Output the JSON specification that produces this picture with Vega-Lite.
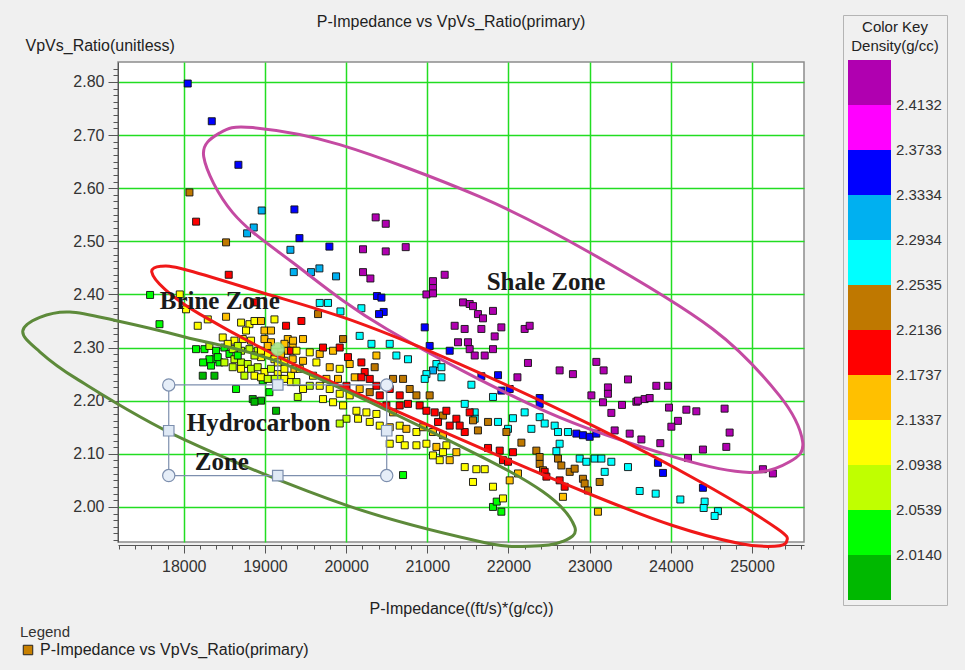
{
 "$schema": "https://vega.github.io/schema/vega-lite/v6.json",
 "width": 686, "height": 480,
 "autosize": {"type": "none"},
 "padding": {"left": 118, "top": 62, "right": 161, "bottom": 128},
 "background": "#f0f0f0",
 "config": {"view": {"fill": "white", "stroke": "#8c8c8c", "strokeWidth": 1.5}, "font": "Liberation Sans"},
 "title": {"text": "P-Impedance vs VpVs_Ratio(primary)", "fontSize": 16, "fontWeight": "normal", "color": "#1e1e1e", "anchor": "middle", "frame": "group", "offset": 8, "dx": -10, "dy": 23},
 "datasets": {
  "pts": [
   {"x":18049,"y":2.797,"d":2.35},{"x":18345,"y":2.726,"d":2.35},{"x":18673,"y":2.644,"d":2.35},{"x":18070,"y":2.592,"d":2.23},{"x":18152,"y":2.537,"d":2.19},{"x":18960,"y":2.558,"d":2.31},{"x":19363,"y":2.560,"d":2.35},{"x":18862,"y":2.526,"d":2.31},{"x":18780,"y":2.515,"d":2.31},{"x":18521,"y":2.498,"d":2.23},{"x":19425,"y":2.506,"d":2.35},{"x":19794,"y":2.490,"d":2.35},{"x":19314,"y":2.484,"d":2.31},{"x":18554,"y":2.437,"d":2.19},{"x":19355,"y":2.442,"d":2.31},{"x":19568,"y":2.442,"d":2.31},{"x":19671,"y":2.449,"d":2.31},{"x":19876,"y":2.434,"d":2.31},
   {"x":20364,"y":2.545,"d":2.43},{"x":20488,"y":2.533,"d":2.43},{"x":20208,"y":2.485,"d":2.43},{"x":20488,"y":2.481,"d":2.43},{"x":20734,"y":2.489,"d":2.43},{"x":20208,"y":2.442,"d":2.43},{"x":20299,"y":2.430,"d":2.43},{"x":21070,"y":2.425,"d":2.43},{"x":21214,"y":2.437,"d":2.43},{"x":21070,"y":2.412,"d":2.43},
   {"x":20989,"y":2.400,"d":2.43},{"x":21070,"y":2.402,"d":2.43},{"x":20380,"y":2.397,"d":2.35},{"x":20435,"y":2.394,"d":2.35},{"x":20463,"y":2.367,"d":2.35},{"x":20405,"y":2.363,"d":2.35},
   {"x":20188,"y":2.374,"d":2.27},{"x":19675,"y":2.384,"d":2.27},{"x":19777,"y":2.384,"d":2.27},{"x":19930,"y":2.368,"d":2.27},{"x":19654,"y":2.363,"d":2.23},{"x":19449,"y":2.350,"d":2.19},
   {"x":21440,"y":2.385,"d":2.43},{"x":21522,"y":2.382,"d":2.43},{"x":21337,"y":2.341,"d":2.43},{"x":21460,"y":2.335,"d":2.43},
   {"x":20968,"y":2.338,"d":2.35},{"x":21029,"y":2.303,"d":2.35},{"x":21276,"y":2.294,"d":2.35},{"x":21378,"y":2.310,"d":2.43},
   {"x":20167,"y":2.322,"d":2.27},{"x":20312,"y":2.307,"d":2.27},{"x":20537,"y":2.307,"d":2.27},{"x":20619,"y":2.285,"d":2.27},{"x":20762,"y":2.278,"d":2.27},
   {"x":21112,"y":2.269,"d":2.27},{"x":21174,"y":2.263,"d":2.27},{"x":21070,"y":2.257,"d":2.31},{"x":20989,"y":2.250,"d":2.27},{"x":21174,"y":2.244,"d":2.27},{"x":20968,"y":2.241,"d":2.27},
   {"x":21461,"y":2.194,"d":2.27},{"x":21461,"y":2.141,"d":2.19},{"x":21461,"y":2.075,"d":2.11},{"x":20701,"y":2.060,"d":2.03},
   {"x":21563,"y":2.378,"d":2.43},{"x":21624,"y":2.363,"d":2.43},{"x":21686,"y":2.355,"d":2.43},{"x":21809,"y":2.369,"d":2.43},{"x":21666,"y":2.335,"d":2.43},{"x":21912,"y":2.338,"d":2.43},{"x":22199,"y":2.335,"d":2.43},{"x":22261,"y":2.341,"d":2.43},{"x":21830,"y":2.321,"d":2.43},{"x":21501,"y":2.310,"d":2.43},{"x":21522,"y":2.297,"d":2.43},{"x":21584,"y":2.285,"d":2.43},{"x":21707,"y":2.285,"d":2.43},{"x":21809,"y":2.297,"d":2.43},{"x":22240,"y":2.271,"d":2.43},{"x":22630,"y":2.257,"d":2.43},{"x":22794,"y":2.250,"d":2.43},{"x":23082,"y":2.273,"d":2.43},{"x":23172,"y":2.257,"d":2.43},{"x":23472,"y":2.240,"d":2.43},{"x":22110,"y":2.244,"d":2.43},{"x":23225,"y":2.225,"d":2.43},{"x":23225,"y":2.213,"d":2.43},{"x":23164,"y":2.197,"d":2.43},{"x":23398,"y":2.192,"d":2.43},{"x":23267,"y":2.177,"d":2.43},{"x":23021,"y":2.210,"d":2.43},{"x":23575,"y":2.198,"d":2.43},{"x":23308,"y":2.144,"d":2.43},{"x":23493,"y":2.138,"d":2.43},
   {"x":21666,"y":2.246,"d":2.35},{"x":21871,"y":2.248,"d":2.35},{"x":22015,"y":2.222,"d":2.35},{"x":21912,"y":2.219,"d":2.35},{"x":21543,"y":2.230,"d":2.27},{"x":21809,"y":2.207,"d":2.27},{"x":22384,"y":2.205,"d":2.35},{"x":22384,"y":2.194,"d":2.35},
   {"x":22199,"y":2.178,"d":2.27},{"x":22384,"y":2.169,"d":2.27},{"x":22446,"y":2.157,"d":2.27},{"x":22569,"y":2.153,"d":2.27},{"x":22610,"y":2.141,"d":2.27},{"x":22733,"y":2.141,"d":2.27},
   {"x":22836,"y":2.138,"d":2.35},{"x":22917,"y":2.135,"d":2.35},{"x":23000,"y":2.132,"d":2.35},{"x":23082,"y":2.138,"d":2.35},
   {"x":21584,"y":2.178,"d":2.27},{"x":21584,"y":2.166,"d":2.27},{"x":21871,"y":2.160,"d":2.27},{"x":22055,"y":2.167,"d":2.27},{"x":21994,"y":2.147,"d":2.27},{"x":22282,"y":2.147,"d":2.27},
   {"x":21563,"y":2.163,"d":2.23},{"x":21748,"y":2.160,"d":2.23},{"x":21624,"y":2.144,"d":2.23},{"x":21974,"y":2.141,"d":2.23},{"x":22159,"y":2.121,"d":2.23},
   {"x":22630,"y":2.119,"d":2.27},{"x":22590,"y":2.105,"d":2.27},
   {"x":21748,"y":2.111,"d":2.19},{"x":21892,"y":2.106,"d":2.19},{"x":22055,"y":2.103,"d":2.19},{"x":21932,"y":2.088,"d":2.19},{"x":21994,"y":2.085,"d":2.19},
   {"x":22343,"y":2.106,"d":2.23},{"x":22384,"y":2.094,"d":2.23},{"x":22384,"y":2.081,"d":2.23},{"x":22425,"y":2.069,"d":2.23},
   {"x":22446,"y":2.066,"d":2.19},{"x":22467,"y":2.057,"d":2.19},{"x":22630,"y":2.050,"d":2.19},{"x":22692,"y":2.038,"d":2.19},
   {"x":22610,"y":2.091,"d":2.23},{"x":22651,"y":2.078,"d":2.23},{"x":22754,"y":2.066,"d":2.23},{"x":22815,"y":2.072,"d":2.23},{"x":22917,"y":2.053,"d":2.23},{"x":22938,"y":2.044,"d":2.23},{"x":23123,"y":2.047,"d":2.23},
   {"x":22877,"y":2.091,"d":2.27},{"x":22959,"y":2.085,"d":2.27},{"x":23061,"y":2.091,"d":2.27},{"x":23144,"y":2.091,"d":2.27},{"x":23267,"y":2.085,"d":2.27},{"x":23472,"y":2.075,"d":2.27},{"x":23185,"y":2.066,"d":2.27},
   {"x":22979,"y":2.031,"d":2.23},
   {"x":21604,"y":2.071,"d":2.11},{"x":21707,"y":2.071,"d":2.11},{"x":21563,"y":2.047,"d":2.11},{"x":21809,"y":2.038,"d":2.11},
   {"x":22015,"y":2.050,"d":2.15},{"x":22117,"y":2.063,"d":2.15},{"x":22671,"y":2.019,"d":2.15},
   {"x":21809,"y":2.000,"d":2.03},{"x":21912,"y":1.991,"d":2.03},{"x":21855,"y":2.010,"d":2.03},
   {"x":23102,"y":1.991,"d":2.15},{"x":21932,"y":2.016,"d":2.11},
   {"x":23821,"y":2.228,"d":2.43},{"x":23964,"y":2.228,"d":2.43},{"x":23595,"y":2.200,"d":2.43},{"x":23677,"y":2.203,"d":2.43},{"x":23739,"y":2.205,"d":2.43},{"x":23977,"y":2.187,"d":2.43},{"x":24191,"y":2.183,"d":2.43},{"x":24314,"y":2.180,"d":2.43},{"x":24662,"y":2.185,"d":2.43},{"x":24087,"y":2.162,"d":2.43},{"x":24006,"y":2.151,"d":2.43},{"x":24724,"y":2.140,"d":2.43},{"x":23637,"y":2.127,"d":2.43},{"x":23870,"y":2.120,"d":2.43},{"x":24395,"y":2.108,"d":2.43},{"x":24683,"y":2.113,"d":2.43},{"x":24211,"y":2.092,"d":2.43},{"x":25134,"y":2.071,"d":2.43},{"x":25257,"y":2.063,"d":2.43},
   {"x":23841,"y":2.083,"d":2.35},{"x":23903,"y":2.064,"d":2.35},{"x":24395,"y":2.036,"d":2.35},
   {"x":23616,"y":2.030,"d":2.27},{"x":23813,"y":2.025,"d":2.27},{"x":24117,"y":2.014,"d":2.27},{"x":24416,"y":2.010,"d":2.27},{"x":24404,"y":1.998,"d":2.27},{"x":24580,"y":1.992,"d":2.27},{"x":24539,"y":1.983,"d":2.27},
   {"x":17585,"y":2.399,"d":2.03},{"x":17951,"y":2.400,"d":2.11},{"x":18028,"y":2.372,"d":2.11},{"x":17701,"y":2.344,"d":2.03},{"x":18172,"y":2.341,"d":2.11},{"x":18521,"y":2.358,"d":2.15},{"x":18296,"y":2.353,"d":2.11},{"x":18706,"y":2.347,"d":2.11},{"x":18809,"y":2.344,"d":2.11},{"x":18871,"y":2.350,"d":2.11},{"x":18952,"y":2.350,"d":2.15},{"x":18994,"y":2.332,"d":2.15},{"x":19075,"y":2.332,"d":2.15},{"x":19117,"y":2.353,"d":2.11},{"x":19260,"y":2.341,"d":2.19},{"x":18767,"y":2.332,"d":2.11},{"x":18480,"y":2.319,"d":2.11},{"x":18883,"y":2.385,"d":2.19},{"x":18624,"y":2.313,"d":2.11},{"x":18727,"y":2.316,"d":2.11},{"x":18829,"y":2.313,"d":2.11},{"x":18994,"y":2.316,"d":2.15},{"x":19075,"y":2.310,"d":2.15},{"x":19281,"y":2.316,"d":2.15},{"x":19342,"y":2.303,"d":2.15},
   {"x":18151,"y":2.297,"d":2.03},{"x":18255,"y":2.297,"d":2.03},{"x":18316,"y":2.303,"d":2.07},{"x":18398,"y":2.294,"d":2.03},{"x":18378,"y":2.278,"d":2.03},{"x":18501,"y":2.300,"d":2.03},{"x":18563,"y":2.288,"d":2.03},{"x":18603,"y":2.297,"d":2.07},{"x":18706,"y":2.294,"d":2.07},{"x":18809,"y":2.297,"d":2.07},{"x":18911,"y":2.294,"d":2.07},{"x":18952,"y":2.282,"d":2.11},{"x":19034,"y":2.288,"d":2.11},{"x":19117,"y":2.278,"d":2.11},{"x":19198,"y":2.285,"d":2.15},{"x":19281,"y":2.294,"d":2.15},{"x":19342,"y":2.278,"d":2.15},{"x":18624,"y":2.278,"d":2.07},{"x":18706,"y":2.272,"d":2.07},{"x":18788,"y":2.269,"d":2.07},{"x":18336,"y":2.266,"d":2.03},{"x":18440,"y":2.272,"d":2.03},{"x":18829,"y":2.260,"d":2.07},{"x":18911,"y":2.263,"d":2.07},{"x":18994,"y":2.254,"d":2.11},{"x":19075,"y":2.260,"d":2.07},{"x":19158,"y":2.250,"d":2.11},{"x":19240,"y":2.260,"d":2.11},{"x":19321,"y":2.247,"d":2.11},{"x":18234,"y":2.247,"d":2.0},{"x":18378,"y":2.247,"d":2.0},{"x":19117,"y":2.241,"d":2.07},{"x":19198,"y":2.241,"d":2.07},{"x":18973,"y":2.238,"d":2.03},{"x":18644,"y":2.222,"d":2.03},{"x":18850,"y":2.203,"d":2.0},{"x":18952,"y":2.200,"d":2.0},{"x":18871,"y":2.198,"d":2.0},{"x":19137,"y":2.181,"d":2.0},{"x":19055,"y":2.216,"d":2.03},{"x":19404,"y":2.207,"d":2.07},{"x":18542,"y":2.307,"d":2.11},{"x":18665,"y":2.303,"d":2.07},{"x":18419,"y":2.282,"d":2.03},{"x":18501,"y":2.272,"d":2.07},{"x":18603,"y":2.263,"d":2.07},{"x":18706,"y":2.260,"d":2.11},{"x":18747,"y":2.247,"d":2.07},{"x":18871,"y":2.247,"d":2.11},{"x":18952,"y":2.244,"d":2.11},{"x":19034,"y":2.241,"d":2.07},{"x":19240,"y":2.241,"d":2.11},{"x":19321,"y":2.235,"d":2.11},{"x":18665,"y":2.285,"d":2.03},{"x":18316,"y":2.278,"d":2.03},{"x":18871,"y":2.285,"d":2.07},{"x":18952,"y":2.294,"d":2.11},{"x":19034,"y":2.303,"d":2.15},{"x":19240,"y":2.307,"d":2.15},{"x":19321,"y":2.294,"d":2.19},{"x":19158,"y":2.272,"d":2.11},{"x":19240,"y":2.275,"d":2.11},{"x":19363,"y":2.260,"d":2.15},{"x":18238,"y":2.272,"d":2.03},
   {"x":19346,"y":2.313,"d":2.15},{"x":19469,"y":2.316,"d":2.15},{"x":19388,"y":2.294,"d":2.11},{"x":19552,"y":2.291,"d":2.11},{"x":19675,"y":2.288,"d":2.15},{"x":19715,"y":2.300,"d":2.19},{"x":19839,"y":2.294,"d":2.15},{"x":19921,"y":2.300,"d":2.19},{"x":19962,"y":2.316,"d":2.23},{"x":20023,"y":2.282,"d":2.19},{"x":20044,"y":2.269,"d":2.15},{"x":20188,"y":2.272,"d":2.19},{"x":20352,"y":2.263,"d":2.23},{"x":20373,"y":2.285,"d":2.15},{"x":20229,"y":2.254,"d":2.19},{"x":20106,"y":2.244,"d":2.15},{"x":19921,"y":2.260,"d":2.11},{"x":19798,"y":2.263,"d":2.15},{"x":19634,"y":2.272,"d":2.11},{"x":19469,"y":2.275,"d":2.15},{"x":19429,"y":2.260,"d":2.11},{"x":19592,"y":2.247,"d":2.11},{"x":19757,"y":2.241,"d":2.15},{"x":19900,"y":2.241,"d":2.15},{"x":20004,"y":2.228,"d":2.19},{"x":20188,"y":2.244,"d":2.19},{"x":20291,"y":2.241,"d":2.19},{"x":20373,"y":2.228,"d":2.19},{"x":20578,"y":2.241,"d":2.23},{"x":20701,"y":2.241,"d":2.23},{"x":20537,"y":2.222,"d":2.19},{"x":20660,"y":2.210,"d":2.19},{"x":20783,"y":2.222,"d":2.23},{"x":20866,"y":2.210,"d":2.23},{"x":21029,"y":2.210,"d":2.23},{"x":20762,"y":2.194,"d":2.19},{"x":20906,"y":2.191,"d":2.19},{"x":20989,"y":2.181,"d":2.19},{"x":21091,"y":2.178,"d":2.19},{"x":21193,"y":2.172,"d":2.23},{"x":21235,"y":2.181,"d":2.19},{"x":21358,"y":2.166,"d":2.19},{"x":21132,"y":2.160,"d":2.19},{"x":21276,"y":2.153,"d":2.19},{"x":21399,"y":2.153,"d":2.19},{"x":20660,"y":2.191,"d":2.19},{"x":20578,"y":2.178,"d":2.15},{"x":20496,"y":2.191,"d":2.19},{"x":20414,"y":2.210,"d":2.19},{"x":20291,"y":2.216,"d":2.23},{"x":20167,"y":2.222,"d":2.15},{"x":20044,"y":2.210,"d":2.11},{"x":19921,"y":2.213,"d":2.11},{"x":19798,"y":2.222,"d":2.11},{"x":19675,"y":2.228,"d":2.11},{"x":19552,"y":2.228,"d":2.07},{"x":19469,"y":2.222,"d":2.11},{"x":19388,"y":2.235,"d":2.07},{"x":19715,"y":2.203,"d":2.11},{"x":19839,"y":2.197,"d":2.11},{"x":19962,"y":2.191,"d":2.11},{"x":20127,"y":2.181,"d":2.11},{"x":20250,"y":2.178,"d":2.11},{"x":20373,"y":2.175,"d":2.11},{"x":20291,"y":2.160,"d":2.11},{"x":20147,"y":2.166,"d":2.11},{"x":20004,"y":2.166,"d":2.07},{"x":19921,"y":2.157,"d":2.07},{"x":20414,"y":2.153,"d":2.11},{"x":20537,"y":2.150,"d":2.15},{"x":20660,"y":2.153,"d":2.11},{"x":20742,"y":2.147,"d":2.15},{"x":20866,"y":2.141,"d":2.11},{"x":20947,"y":2.150,"d":2.15},{"x":21070,"y":2.141,"d":2.15},{"x":21193,"y":2.135,"d":2.15},{"x":20660,"y":2.128,"d":2.11},{"x":20537,"y":2.119,"d":2.11},{"x":20722,"y":2.116,"d":2.11},{"x":20866,"y":2.116,"d":2.11},{"x":20989,"y":2.119,"d":2.11},{"x":21112,"y":2.113,"d":2.15},{"x":21235,"y":2.116,"d":2.11},{"x":21070,"y":2.097,"d":2.11},{"x":21193,"y":2.103,"d":2.11},{"x":21153,"y":2.088,"d":2.11},{"x":21276,"y":2.088,"d":2.15},{"x":21358,"y":2.103,"d":2.15},{"x":21522,"y":2.178,"d":2.19}
  ],
  "ell": [
   {"e":1,"i":1,"x":18246,"y":2.659},{"e":1,"i":2,"x":18443,"y":2.704},{"e":1,"i":3,"x":18850,"y":2.714},{"e":1,"i":4,"x":19921,"y":2.682},{"e":1,"i":5,"x":21645,"y":2.584},{"e":1,"i":6,"x":23000,"y":2.479},{"e":1,"i":7,"x":24515,"y":2.335},{"e":1,"i":8,"x":25340,"y":2.209},{"e":1,"i":9,"x":25623,"y":2.123},{"e":1,"i":10,"x":25463,"y":2.085},{"e":1,"i":11,"x":24970,"y":2.065},{"e":1,"i":12,"x":24108,"y":2.091},{"e":1,"i":13,"x":22470,"y":2.179},{"e":1,"i":14,"x":20500,"y":2.335},{"e":1,"i":15,"x":19342,"y":2.460},{"e":1,"i":16,"x":18603,"y":2.554},
   {"e":2,"i":1,"x":17606,"y":2.442},{"e":2,"i":2,"x":17717,"y":2.453},{"e":2,"i":3,"x":18012,"y":2.447},{"e":2,"i":4,"x":18911,"y":2.406},{"e":2,"i":5,"x":20130,"y":2.348},{"e":2,"i":6,"x":21399,"y":2.269},{"e":2,"i":7,"x":23037,"y":2.153},{"e":2,"i":8,"x":24355,"y":2.048},{"e":2,"i":9,"x":25303,"y":1.960},{"e":2,"i":10,"x":25426,"y":1.935},{"e":2,"i":11,"x":25278,"y":1.926},{"e":2,"i":12,"x":24847,"y":1.931},{"e":2,"i":13,"x":24022,"y":1.965},{"e":2,"i":14,"x":23037,"y":2.022},{"e":2,"i":15,"x":21399,"y":2.128},{"e":2,"i":16,"x":19404,"y":2.265},{"e":2,"i":17,"x":18197,"y":2.363},{"e":2,"i":18,"x":17766,"y":2.410},
   {"e":3,"i":1,"x":16017,"y":2.331},{"e":3,"i":2,"x":16227,"y":2.357},{"e":3,"i":3,"x":16596,"y":2.367},{"e":3,"i":4,"x":17187,"y":2.350},{"e":3,"i":5,"x":18012,"y":2.320},{"e":3,"i":6,"x":19305,"y":2.265},{"e":3,"i":7,"x":21399,"y":2.115},{"e":3,"i":8,"x":22421,"y":2.029},{"e":3,"i":9,"x":22815,"y":1.963},{"e":3,"i":10,"x":22667,"y":1.935},{"e":3,"i":11,"x":22261,"y":1.926},{"e":3,"i":12,"x":21645,"y":1.935},{"e":3,"i":13,"x":20007,"y":2.003},{"e":3,"i":14,"x":17988,"y":2.128},{"e":3,"i":15,"x":16682,"y":2.241},{"e":3,"i":16,"x":16190,"y":2.297}
  ],
  "labels": [
   {"x":17704,"y":2.387,"t":"Brine Zone"},
   {"x":21731,"y":2.423,"t":"Shale Zone"},
   {"x":18037,"y":2.158,"t":"Hydrocarbon"},
   {"x":18135,"y":2.085,"t":"Zone"}
  ],
  "box": [{"x":17815,"x2":20500,"y":2.059,"y2":2.2297}],
  "rot": [{"x":19158,"y":2.2297,"y2":2.297}],
  "hc": [{"x":17815,"y":2.2297},{"x":20500,"y":2.2297},{"x":17815,"y":2.059},{"x":20500,"y":2.059}],
  "hs": [{"x":19158,"y":2.2297},{"x":17815,"y":2.1434},{"x":20500,"y":2.1434},{"x":19158,"y":2.059}],
  "hg": [{"x":19158,"y":2.297}]
 },
 "encoding": {
  "x": {"field": "x", "type": "quantitative",
   "scale": {"domain": [17190, 25640], "nice": false, "zero": false},
   "axis": {"title": "P-Impedance((ft/s)*(g/cc))",
    "values": [17200,17400,17600,17800,18000,18200,18400,18600,18800,19000,19200,19400,19600,19800,20000,20200,20400,20600,20800,21000,21200,21400,21600,21800,22000,22200,22400,22600,22800,23000,23200,23400,23600,23800,24000,24200,24400,24600,24800,25000,25200,25400,25600],
    "labelExpr": "datum.value % 1000 === 0 ? format(datum.value, 'd') : ''",
    "grid": true, "gridColor": "#22dd22", "gridWidth": 1.5,
    "gridOpacity": {"condition": {"test": "datum.value % 1000 === 0", "value": 1}, "value": 0},
    "tickSize": {"condition": {"test": "datum.value % 1000 === 0", "value": 8}, "value": 4},
    "tickColor": "#555", "domainColor": "#555", "offset": 3,
    "labelFontSize": 16, "labelColor": "#333", "labelPadding": 5, "labelOverlap": false, "labelBound": false, "labelFlush": false,
    "titleFontSize": 16, "titleFontWeight": "normal", "titleColor": "#222", "titleY": 63, "titleBaseline": "middle"}},
  "y": {"field": "y", "type": "quantitative",
   "scale": {"domain": [1.934, 2.8375], "nice": false, "zero": false},
   "axis": {"title": "VpVs_Ratio(unitless)",
    "values": [1.9375,1.95,1.9625,1.975,1.9875,2,2.0125,2.025,2.0375,2.05,2.0625,2.075,2.0875,2.1,2.1125,2.125,2.1375,2.15,2.1625,2.175,2.1875,2.2,2.2125,2.225,2.2375,2.25,2.2625,2.275,2.2875,2.3,2.3125,2.325,2.3375,2.35,2.3625,2.375,2.3875,2.4,2.4125,2.425,2.4375,2.45,2.4625,2.475,2.4875,2.5,2.5125,2.525,2.5375,2.55,2.5625,2.575,2.5875,2.6,2.6125,2.625,2.6375,2.65,2.6625,2.675,2.6875,2.7,2.7125,2.725,2.7375,2.75,2.7625,2.775,2.7875,2.8,2.8125,2.825],
    "labelExpr": "abs(datum.value*10 - round(datum.value*10)) < 0.001 ? format(datum.value, '.2f') : ''",
    "grid": true, "gridColor": "#22dd22", "gridWidth": 1.5,
    "gridOpacity": {"condition": {"test": "abs(datum.value*10 - round(datum.value*10)) < 0.001", "value": 1}, "value": 0},
    "tickSize": {"condition": {"test": "abs(datum.value*10 - round(datum.value*10)) < 0.001", "value": 10}, "value": 5},
    "tickColor": "#555", "domainColor": "#555",
    "labelFontSize": 16, "labelColor": "#333", "labelPadding": 4, "labelOverlap": false, "labelBound": false, "labelFlush": false,
    "titleFontSize": 16, "titleFontWeight": "normal", "titleColor": "#222", "titleAngle": 0, "titleX": -93, "titleY": -17, "titleAlign": "left", "titleBaseline": "middle"}}
 },
 "layer": [
  {"data": {"name": "pts"},
   "mark": {"type": "point", "shape": "square", "filled": true, "size": 49, "stroke": "#111", "strokeWidth": 0.9, "opacity": 1},
   "encoding": {
    "color": {"field": "d", "type": "quantitative",
     "scale": {"type": "threshold", "domain": [2.014, 2.0539, 2.0938, 2.1337, 2.1737, 2.2136, 2.2535, 2.2934, 2.3334, 2.3733, 2.4132],
      "range": ["#00b800", "#00ff00", "#c0ff00", "#ffff00", "#ffc000", "#ff0000", "#bf7800", "#00ffff", "#00b0f0", "#0000ff", "#ff00ff", "#b000b0"]},
     "legend": {"type": "gradient", "orient": "none", "legendX": 725, "legendY": -47, "direction": "vertical",
      "gradientLength": 540, "gradientThickness": 43, "gradientStrokeWidth": 0,
      "title": ["Color Key", "Density(g/cc)"], "titleFontSize": 15, "titleFontWeight": "normal", "titleColor": "#222", "titleAnchor": "middle", "titleLineHeight": 19, "titlePadding": 6,
      "labelFontSize": 15, "labelColor": "#333", "labelOffset": 5, "format": ".4f",
      "strokeColor": "#b4b4b4", "padding": 5}},
    "shape": {"datum": "P-Impedance vs VpVs_Ratio(primary)", "scale": {"range": ["square"]},
     "legend": {"orient": "none", "legendX": -98, "legendY": 563, "title": "Legend", "titleFontSize": 15, "titleFontWeight": "normal", "titleColor": "#333", "titlePadding": 2,
      "labelFontSize": 16, "labelColor": "#222", "labelLimit": 500, "symbolFillColor": "#c88000", "symbolStrokeColor": "#222", "symbolStrokeWidth": 1, "symbolSize": 90, "symbolType": "square", "labelOffset": 4}}
   }},
  {"data": {"name": "ell"}, "transform": [{"filter": "datum.e === 1"}],
   "mark": {"type": "line", "interpolate": "cardinal-closed", "color": "#c44aa2", "strokeWidth": 3, "clip": false},
   "encoding": {"order": {"field": "i", "type": "quantitative"}}},
  {"data": {"name": "ell"}, "transform": [{"filter": "datum.e === 2"}],
   "mark": {"type": "line", "interpolate": "cardinal-closed", "color": "#f01818", "strokeWidth": 3, "clip": false},
   "encoding": {"order": {"field": "i", "type": "quantitative"}}},
  {"data": {"name": "ell"}, "transform": [{"filter": "datum.e === 3"}],
   "mark": {"type": "line", "interpolate": "cardinal-closed", "color": "#5d8a3a", "strokeWidth": 3, "clip": false},
   "encoding": {"order": {"field": "i", "type": "quantitative"}}},
  {"data": {"name": "box"},
   "mark": {"type": "rect", "fillOpacity": 0, "stroke": "#7d8fae", "strokeWidth": 1.2},
   "encoding": {"x2": {"field": "x2"}, "y2": {"field": "y2"}}},
  {"data": {"name": "rot"},
   "mark": {"type": "rule", "color": "#7d8fae", "strokeWidth": 1.2},
   "encoding": {"y2": {"field": "y2"}}},
  {"data": {"name": "hc"},
   "mark": {"type": "point", "shape": "circle", "filled": true, "size": 150, "fill": "#e6eef8", "stroke": "#7d8fae", "strokeWidth": 1.2, "opacity": 1}},
  {"data": {"name": "hs"},
   "mark": {"type": "point", "shape": "square", "filled": true, "size": 110, "fill": "#dfe9f5", "stroke": "#7d8fae", "strokeWidth": 1.2, "opacity": 1}},
  {"data": {"name": "hg"},
   "mark": {"type": "point", "shape": "circle", "filled": true, "size": 170, "fill": "#a6e486", "stroke": "#88c870", "strokeWidth": 1, "opacity": 0.9}},
  {"data": {"name": "labels"},
   "mark": {"type": "text", "font": "Liberation Serif", "fontWeight": "bold", "fontSize": 25, "align": "left", "baseline": "middle", "color": "#1a1a1a"},
   "encoding": {"text": {"field": "t", "type": "nominal"}}}
 ]
}
